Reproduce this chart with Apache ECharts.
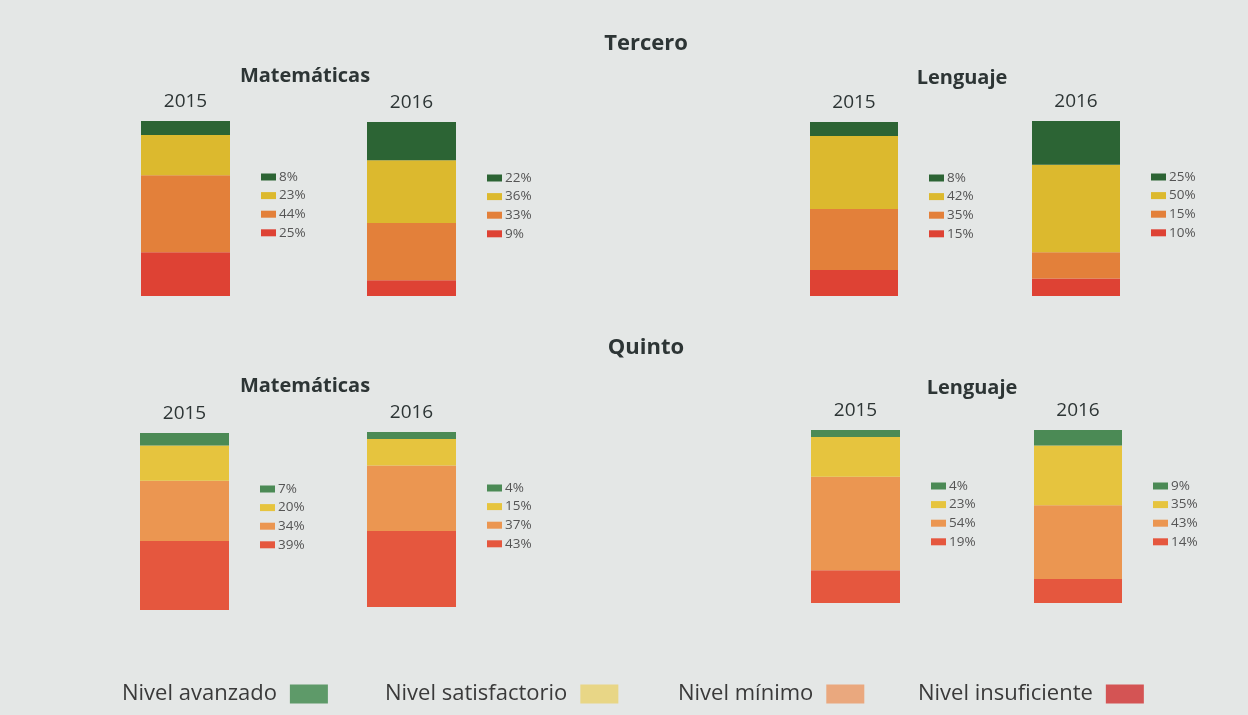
<!DOCTYPE html>
<html><head><meta charset="utf-8">
<script src="https://cdn.jsdelivr.net/npm/echarts@6/dist/echarts.min.js"></script>
<style>html,body{margin:0;padding:0;background:#e4e7e6;}#c{width:1248px;height:715px;}</style>
</head><body><div id="c"></div>
<script>
// Data: values in order [avanzado, satisfactorio, mínimo, insuficiente]
const levels = ['Nivel avanzado', 'Nivel satisfactorio', 'Nivel mínimo', 'Nivel insuficiente'];
const years = ['2015', '2016'];
const subjects = ['Matemáticas', 'Lenguaje'];
const grades = ['Tercero', 'Quinto'];
const terceroMatematicas2015 = [8, 23, 44, 25];
const terceroMatematicas2016 = [22, 36, 33, 9];
const terceroLenguaje2015 = [8, 42, 35, 15];
const terceroLenguaje2016 = [25, 50, 15, 10];
const quintoMatematicas2015 = [7, 20, 34, 39];
const quintoMatematicas2016 = [4, 15, 37, 43];
const quintoLenguaje2015 = [4, 23, 54, 19];
const quintoLenguaje2016 = [9, 35, 43, 14];

const panels = [
  {values: terceroMatematicas2015, year: years[0]},
  {values: terceroMatematicas2016, year: years[1]},
  {values: terceroLenguaje2015, year: years[0]},
  {values: terceroLenguaje2016, year: years[1]},
  {values: quintoMatematicas2015, year: years[0]},
  {values: quintoMatematicas2016, year: years[1]},
  {values: quintoLenguaje2015, year: years[0]},
  {values: quintoLenguaje2016, year: years[1]}
];

// Layout (pixels)
const gridBoxes = [
  [141,121,89,175],[367,122,89,174],[810,122,88,174],[1032,121,88,175],
  [140,433,89,177],[367,432,89,175],[811,430,89,173],[1034,430,88,173]
];
const rowColors = [
  ['#2c6434','#dcb92e','#e3803a','#de4234'],
  ['#4b8a55','#e6c43e','#eb9651','#e5573e']
];
const legendColors = ['#5e9a69','#e8d686','#eaa87e','#d45454'];
const titleColor = '#2d3535';

const grid = [], xAxis = [], yAxis = [], series = [], graphic = [];
panels.forEach((p, k) => {
  const [l, t, w, h] = gridBoxes[k];
  const row = k < 4 ? 0 : 1;
  const total = p.values.reduce((a, b) => a + b, 0);
  grid.push({left: l, top: t, width: w, height: h});
  xAxis.push({type: 'category', gridIndex: k, data: [p.year], position: 'top',
    axisLine: {show: false}, axisTick: {show: false},
    axisLabel: {margin: 10, fontSize: 19, color: titleColor, fontFamily: 'Open Sans'}});
  yAxis.push({type: 'value', gridIndex: k, min: 0, max: total, show: false, splitLine: {show: false}});
  for (let i = 3; i >= 0; i--) {
    series.push({type: 'bar', name: levels[i], xAxisIndex: k, yAxisIndex: k, stack: 's' + k,
      barWidth: '100%', data: [p.values[i]], itemStyle: {color: rowColors[row][i]},
      emphasis: {disabled: true}, silent: true});
  }
  for (let i = 0; i < 4; i++) {
    const x = l + w + 31, yc = t + 56 + i * 18.6;
    graphic.push({type: 'rect', shape: {x: x, y: yc - 3.5, width: 15, height: 7},
      style: {fill: rowColors[row][i]}});
    graphic.push({type: 'text', x: x + 18, y: yc,
      style: {text: p.values[i] + '%', fontSize: 13.5, fill: '#555', fontFamily: 'Open Sans',
        textVerticalAlign: 'middle'}});
  }
});

const titles = [
  [grades[0], 646, 44, 22], [subjects[0], 305, 76, 20], [subjects[1], 962, 78, 20],
  [grades[1], 646, 348, 22], [subjects[0], 305, 386, 20], [subjects[1], 972, 388, 20]
];
titles.forEach(([txt, x, y, fs]) => {
  graphic.push({type: 'text', x: x, y: y,
    style: {text: txt, fontSize: fs, fontWeight: 'bold', fill: titleColor, fontFamily: 'Open Sans',
      textAlign: 'center', textVerticalAlign: 'middle'}});
});

const legendLefts = [122, 385, 678, 918];
const legend = levels.map((name, i) => ({
  left: legendLefts[i], top: 683, padding: 0, align: 'right', itemWidth: 38, itemHeight: 19,
  icon: 'rect', selectedMode: false,
  data: [{name: name, itemStyle: {color: legendColors[i]}}],
  textStyle: {fontSize: 22, color: '#3a3a3a', fontFamily: 'Open Sans', padding: [0, 8, 0, 0]}
}));

const chart = echarts.init(document.getElementById('c'));
chart.setOption({
  backgroundColor: '#e4e7e6',
  animation: false,
  grid, xAxis, yAxis, series, legend, graphic
});
</script></body></html>
